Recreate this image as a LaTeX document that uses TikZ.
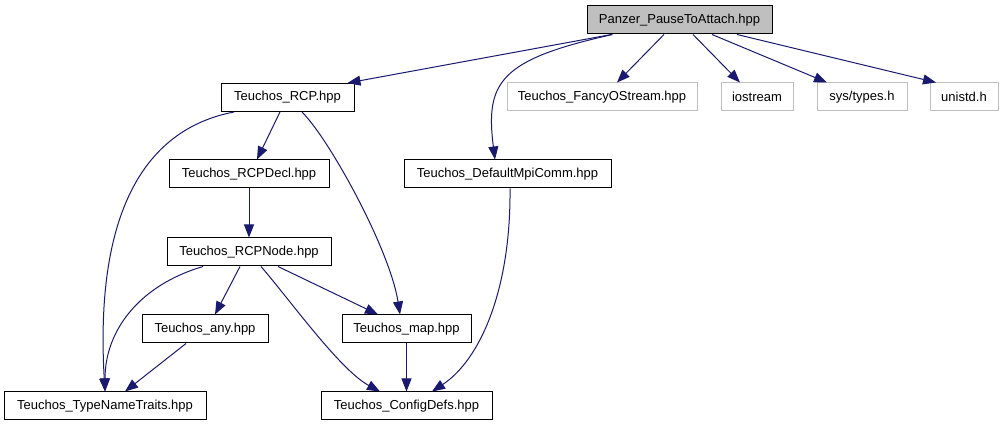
\documentclass[tikz,border=0pt]{standalone}
\usepackage{fontspec}
\setmainfont{Liberation Sans}
\usetikzlibrary{arrows.meta}
\definecolor{edgeblue}{HTML}{191970}
\definecolor{boxgray}{HTML}{BFBFBF}
\tikzstyle{file} = [rectangle, minimum height=28pt, inner sep=0, text centered, draw=black, line width=1pt, fill=white, font=\fontsize{13}{15}\selectfont]
\tikzstyle{sysfile} = [file, draw=boxgray]
\tikzstyle{arrow} = [edgeblue, line width=1pt, -{Triangle[length=13pt,width=10pt]}]
\begin{document}
\begin{tikzpicture}[x=1pt,y=-1pt]
\useasboundingbox (0,0) rectangle (1005,427);
\node[file,fill=boxgray,minimum width=185pt] (panzer) at (679.5,20) {Panzer\_PauseToAttach.hpp};
\node[file,minimum width=133pt] (rcp) at (287.5,97.5) {Teuchos\_RCP.hpp};
\node[sysfile,minimum width=190pt] (fancy) at (602,97) {Teuchos\_FancyOStream.hpp};
\node[sysfile,minimum width=72pt] (ios) at (757,97) {iostream};
\node[sysfile,minimum width=90pt] (types) at (862,97) {sys/types.h};
\node[sysfile,minimum width=68pt] (unistd) at (964,97) {unistd.h};
\node[file,minimum width=207pt] (mpi) at (507.5,174) {Teuchos\_DefaultMpiComm.hpp};
\node[file,minimum width=160pt] (decl) at (249,174) {Teuchos\_RCPDecl.hpp};
\node[file,minimum width=164pt] (rcpnode) at (249,252) {Teuchos\_RCPNode.hpp};
\node[file,minimum width=126pt] (any) at (205,329) {Teuchos\_any.hpp};
\node[file,minimum width=129pt] (map) at (406.5,329) {Teuchos\_map.hpp};
\node[file,minimum width=202pt] (traits) at (105,406) {Teuchos\_TypeNameTraits.hpp};
\node[file,minimum width=171pt] (config) at (406.5,406) {Teuchos\_ConfigDefs.hpp};
% from the top file
\draw[arrow] ([xshift=-68pt]panzer.south)--([xshift=60pt]rcp.north);
\draw[arrow] ([xshift=-67pt]panzer.south) .. controls +(-112,25) and +(-10,-78) .. ([xshift=-12.5pt]mpi.north);
\draw[arrow] ([xshift=-15.5pt]panzer.south)--([xshift=15pt]fancy.north);
\draw[arrow] ([xshift=13.5pt]panzer.south)--([xshift=-17pt]ios.north);
\draw[arrow] ([xshift=32.5pt]panzer.south)--([xshift=-35pt]types.north);
\draw[arrow] ([xshift=57.5pt]panzer.south)--([xshift=-28pt]unistd.north);
% Teuchos part
\draw[arrow] ([xshift=-53.5pt]rcp.south) .. controls (140,130) and (95,220) .. (traits.north);
\draw[arrow] ([xshift=-7.5pt]rcp.south)--([xshift=8pt]decl.north);
\draw[arrow] ([xshift=14.5pt]rcp.south) .. controls (330,140) and (390,250) .. ([xshift=-6.5pt]map.north);
\draw[arrow] (decl.south)--(rcpnode.north);
\draw[arrow] ([xshift=-46pt]rcpnode.south) .. controls (140,285) and (105,330) .. (traits.north);
\draw[arrow] ([xshift=-9pt]rcpnode.south)--([xshift=10pt]any.north);
\draw[arrow] ([xshift=12pt]rcpnode.south) .. controls (290,300) and (340,370) .. ([xshift=-26.5pt]config.north);
\draw[arrow] ([xshift=29pt]rcpnode.south)--([xshift=-28.5pt]map.north);
\draw[arrow] ([xshift=-19pt]any.south)--([xshift=20pt]traits.north);
\draw[arrow] (map.south)--(config.north);
\draw[arrow] ([xshift=2.5pt]mpi.south) .. controls (511,290) and (480,360) .. ([xshift=25.5pt]config.north);
\end{tikzpicture}
\end{document}
